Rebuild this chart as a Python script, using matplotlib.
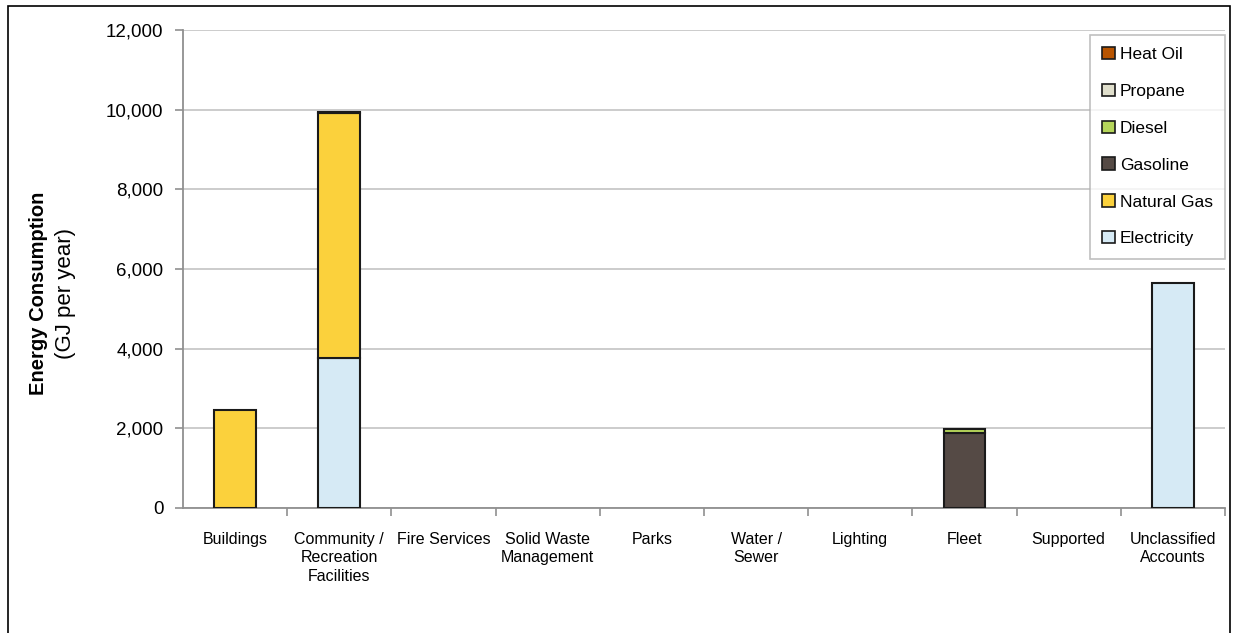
import numpy as np
import matplotlib.pyplot as plt
from matplotlib.patches import Rectangle
from matplotlib.ticker import FuncFormatter

# Categories and energy use by fuel (GJ per year)
categories = ['Buildings', 'Community /\nRecreation\nFacilities', 'Fire Services',
              'Solid Waste\nManagement', 'Parks', 'Water /\nSewer', 'Lighting',
              'Fleet', 'Supported', 'Unclassified\nAccounts']
electricity = [0, 3770, 0, 0, 0, 0, 0, 0, 0, 5640]
natural_gas = [2460, 6140, 0, 0, 0, 0, 0, 0, 0, 0]
gasoline = [0, 40, 0, 0, 0, 0, 0, 1880, 0, 0]
diesel = [0, 0, 0, 0, 0, 0, 0, 110, 0, 0]
propane = [0, 0, 0, 0, 0, 0, 0, 0, 0, 0]
heat_oil = [0, 0, 0, 0, 0, 0, 0, 0, 0, 0]

series = [('Electricity', electricity, '#D6EAF5'),
          ('Natural Gas', natural_gas, '#FBD13C'),
          ('Gasoline', gasoline, '#554A45'),
          ('Diesel', diesel, '#B5D55A'),
          ('Propane', propane, '#E0DFCC'),
          ('Heat Oil', heat_oil, '#B85400')]

plt.rcParams['font.family'] = ['Liberation Sans', 'DejaVu Sans']

fig = plt.figure(figsize=(12.33, 6.33), dpi=100)
ax = fig.add_axes([183 / 1233, 1 - 508 / 633, (1225 - 183) / 1233, (508 - 30) / 633])

# outer border of the chart area
fig.patches.append(Rectangle((8 / 1233, -0.05), (1230 - 8) / 1233, 1.05 - 6 / 633,
                             transform=fig.transFigure, fill=False,
                             edgecolor='black', linewidth=1.2))

x = np.arange(len(categories))
bottom = np.zeros(len(categories))
handles = []
for name, vals, color in series:
    vals = np.array(vals, dtype=float)
    mask = vals > 0
    ax.bar(x[mask], vals[mask], 0.4, bottom=bottom[mask], color=color,
           edgecolor='#1a1a1a', linewidth=1.5, zorder=3)
    handles.append(Rectangle((0, 0), 1, 1, facecolor=color, edgecolor='#1a1a1a',
                             linewidth=1.2, label=name))
    bottom += vals

ax.set_xlim(-0.5, len(categories) - 0.5)
ax.set_ylim(0, 12000)
ax.set_yticks(np.arange(0, 12001, 2000))
ax.yaxis.set_major_formatter(FuncFormatter(lambda v, p: f'{int(v):,}'))
ax.grid(axis='y', color='#c8c8c8', linewidth=1.3, zorder=0)

ax.set_xticks(x)
ax.set_xticklabels(categories, fontsize=11.5, linespacing=1.3)
ax.set_xticks(np.arange(0.5, len(categories), 1), minor=True)
ax.tick_params(axis='x', which='major', length=0, pad=17)
ax.tick_params(axis='x', which='minor', length=6, color='#909090', width=1.2)
ax.tick_params(axis='y', length=6, color='#909090', width=1.2, labelsize=13.5, pad=8)

for s in ['top', 'right']:
    ax.spines[s].set_visible(False)
for s in ['left', 'bottom']:
    ax.spines[s].set_color('#909090')
    ax.spines[s].set_linewidth(1.3)

fig.text(39 / 1233, 1 - 293 / 633, 'Energy Consumption', rotation=90, fontsize=14.5,
         fontweight='bold', ha='center', va='center')
fig.text(66 / 1233, 1 - 293 / 633, '(GJ per year)', rotation=90, fontsize=16,
         ha='center', va='center')

leg = ax.legend(handles=handles[::-1], loc='upper right', bbox_to_anchor=(1.0, 0.99),
                fontsize=12.5, frameon=True, fancybox=False, handlelength=0.7,
                handleheight=0.7, handletextpad=0.3, labelspacing=1.25,
                borderpad=0.7, borderaxespad=0.0)
leg.get_frame().set_edgecolor('#b0b0b0')
leg.get_frame().set_linewidth(1.2)

fig.savefig('out.png', dpi=100)
